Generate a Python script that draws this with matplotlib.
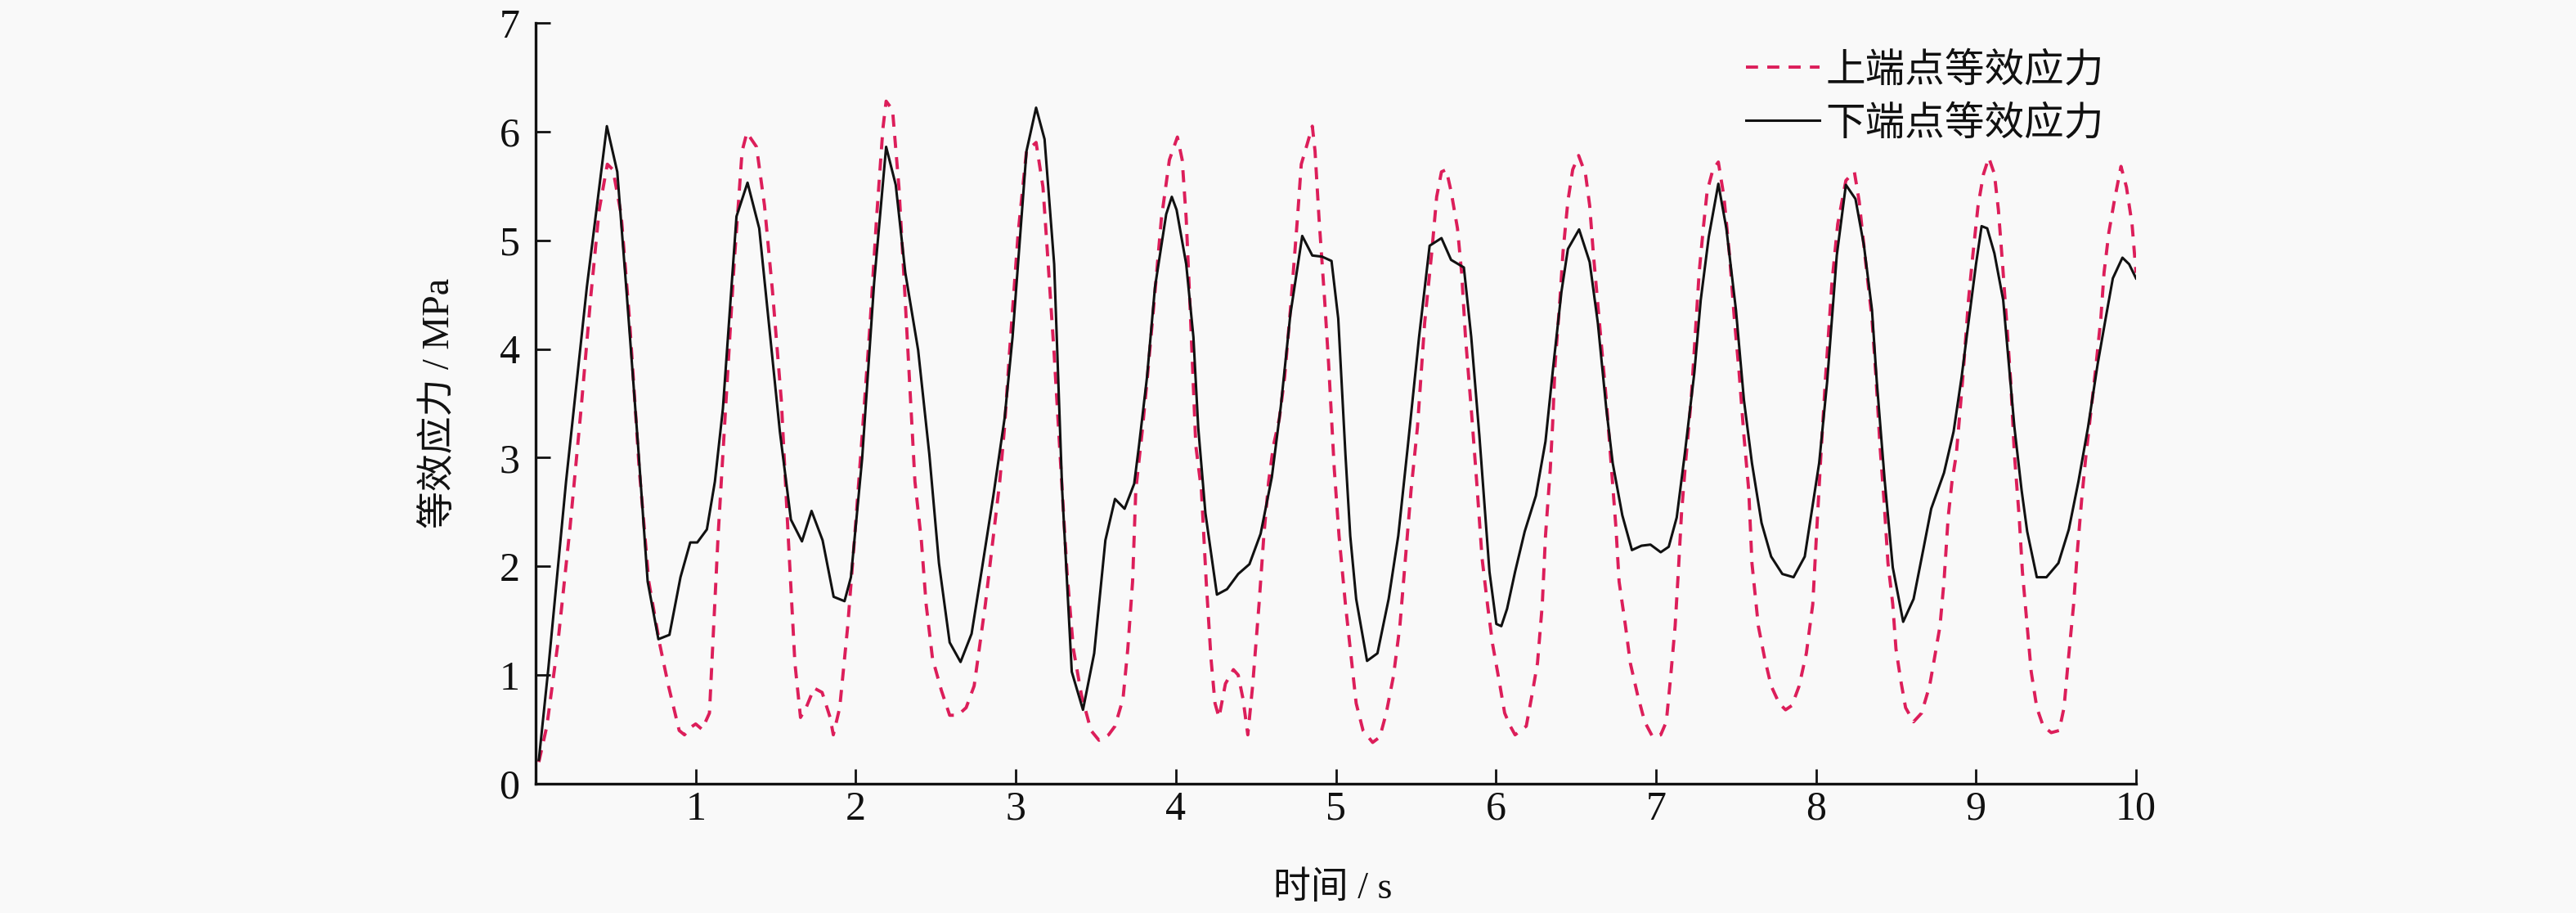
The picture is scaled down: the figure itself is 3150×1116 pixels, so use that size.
import matplotlib
matplotlib.use("Agg")
import matplotlib.pyplot as plt

# ---------------- data ----------------
t_upper = [0.02, 0.07, 0.138, 0.215, 0.284, 0.345, 0.397, 0.448, 0.483, 0.534, 0.586, 0.647, 0.707, 0.776,
           0.83, 0.897, 0.93, 0.97, 1.0, 1.04, 1.086, 1.14, 1.19, 1.24, 1.29, 1.32, 1.38, 1.43, 1.48, 1.535,
           1.578, 1.62, 1.655, 1.69, 1.74, 1.79, 1.84, 1.86, 1.9, 1.95, 2.0, 2.04, 2.09, 2.13, 2.17, 2.19,
           2.23, 2.27, 2.30, 2.34, 2.37, 2.41, 2.44, 2.48, 2.535, 2.587, 2.638, 2.69, 2.74, 2.81, 2.86, 2.90,
           2.93, 2.96, 3.015, 3.067, 3.127, 3.17, 3.195, 3.24, 3.29, 3.32, 3.36, 3.41, 3.47, 3.52, 3.58, 3.62,
           3.67, 3.70, 3.73, 3.75, 3.79, 3.82, 3.86, 3.91, 3.96, 4.01, 4.04, 4.065, 4.09, 4.125, 4.16, 4.19,
           4.22, 4.245, 4.27, 4.31, 4.36, 4.39, 4.42, 4.45, 4.48, 4.52, 4.55, 4.58, 4.61, 4.647, 4.68, 4.716,
           4.76, 4.784, 4.82, 4.853, 4.87, 4.895, 4.93, 4.955, 4.99, 5.02, 5.06, 5.09, 5.127, 5.17, 5.23,
           5.275, 5.315, 5.36, 5.40, 5.435, 5.47, 5.51, 5.555, 5.6, 5.63, 5.66, 5.69, 5.72, 5.76, 5.786, 5.81,
           5.846, 5.88, 5.914, 5.95, 5.98, 6.02, 6.055, 6.09, 6.12, 6.19, 6.226, 6.26, 6.29, 6.31, 6.34, 6.355,
           6.37, 6.40, 6.42, 6.45, 6.48, 6.517, 6.56, 6.586, 6.61, 6.645, 6.69, 6.72, 6.75, 6.77, 6.81, 6.84,
           6.885, 6.93, 6.98, 7.03, 7.065, 7.09, 7.12, 7.14, 7.16, 7.185, 7.22, 7.245, 7.27, 7.296, 7.32,
           7.356, 7.39, 7.425, 7.46, 7.49, 7.52, 7.55, 7.58, 7.60, 7.64, 7.68, 7.72, 7.77, 7.81, 7.85, 7.895,
           7.94, 7.98, 8.0, 8.03, 8.06, 8.10, 8.136, 8.187, 8.24, 8.27, 8.306, 8.35, 8.375, 8.40, 8.425, 8.45,
           8.48, 8.50, 8.53, 8.56, 8.61, 8.66, 8.71, 8.74, 8.775, 8.80, 8.826, 8.85, 8.877, 8.894, 8.92, 8.953,
           8.98, 9.013, 9.047, 9.08, 9.115, 9.14, 9.166, 9.19, 9.217, 9.24, 9.27, 9.29, 9.32, 9.345, 9.38,
           9.42, 9.47, 9.52, 9.55, 9.575, 9.61, 9.634, 9.66, 9.685, 9.71, 9.745, 9.78, 9.80, 9.83, 9.864,
           9.906, 9.94, 9.975, 10.0]
s_upper = [0.20, 0.53, 1.28, 2.36, 3.45, 4.49, 5.28, 5.70, 5.65, 5.24, 4.28, 2.90, 1.86, 1.28,
           0.90, 0.49, 0.45, 0.52, 0.55, 0.50, 0.65, 2.28, 3.53, 4.78, 5.82, 5.99, 5.86, 5.32, 4.53, 3.53,
           2.28, 1.11, 0.61, 0.70, 0.88, 0.84, 0.61, 0.45, 0.70, 1.45, 2.40, 3.20, 4.24, 5.20, 6.03, 6.28,
           6.20, 5.49, 4.70, 3.61, 2.78, 2.24, 1.65, 1.15, 0.86, 0.63, 0.63, 0.70, 0.90, 1.65, 2.28, 2.78,
           3.28, 3.95, 5.07, 5.82, 5.90, 5.49, 4.95, 3.95, 2.70, 1.95, 1.24, 0.82, 0.49, 0.40, 0.45, 0.53,
           0.78, 1.24, 1.86, 2.70, 3.24, 3.70, 4.36, 5.20, 5.74, 5.95, 5.74, 5.20, 4.36, 3.11, 2.70, 1.86,
           1.15, 0.74, 0.61, 0.92, 1.05, 1.00, 0.78, 0.45, 0.90, 1.65, 2.28, 2.78, 3.11, 3.36, 3.74, 4.36,
           5.20, 5.70, 5.88, 6.05, 5.82, 5.20, 4.45, 3.86, 2.90, 2.28, 1.65, 1.24, 0.74, 0.49, 0.38,
           0.43, 0.65, 0.99, 1.45, 2.07, 2.70, 3.28, 4.24, 4.90, 5.40, 5.63, 5.65, 5.45, 5.11, 4.70, 4.11,
           3.45, 2.78, 2.07, 1.62, 1.28, 0.95, 0.65, 0.53, 0.45, 0.53, 0.82, 1.11, 1.65, 2.28, 2.90, 3.32,
           3.86, 4.45, 4.90, 5.36, 5.65, 5.78, 5.61, 5.32, 4.86, 4.28, 3.53, 2.95, 2.36, 1.86, 1.45, 1.11,
           0.82, 0.57, 0.43, 0.45, 0.57, 0.95, 1.45, 1.95, 2.49, 2.95, 3.53, 4.11, 4.70, 5.11, 5.45,
           5.65, 5.72, 5.40, 4.86, 4.28, 3.78, 3.20, 2.70, 2.03, 1.45, 1.15, 0.90, 0.74, 0.68, 0.72, 0.90,
           1.20, 1.65, 2.20, 3.00, 3.74, 4.61, 5.15, 5.55, 5.63, 5.36, 4.86, 4.28, 3.74, 3.11, 2.61, 2.03,
           1.65, 1.24, 0.95, 0.70, 0.57, 0.65, 0.90, 1.15, 1.45, 1.86, 2.45, 2.78, 3.03, 3.32, 3.78, 4.45,
           4.86, 5.32, 5.61, 5.76, 5.61, 5.28, 4.78, 4.28, 3.70, 3.03, 2.45, 1.95, 1.45, 1.03, 0.70,
           0.53, 0.47, 0.49, 0.70, 1.11, 1.65, 2.15, 2.61, 2.99, 3.32, 3.78, 4.28, 4.70, 5.07, 5.36,
           5.68, 5.49, 5.15, 4.70]

t_lower = [0.02, 0.08, 0.19, 0.32, 0.38, 0.445, 0.51, 0.57, 0.64, 0.70, 0.767, 0.836, 0.905, 0.966, 1.01,
           1.07, 1.12, 1.17, 1.255, 1.324, 1.397, 1.466, 1.526, 1.595, 1.664, 1.724, 1.793, 1.862, 1.93, 1.97,
           2.04, 2.115, 2.19, 2.25, 2.31, 2.39, 2.46, 2.52, 2.587, 2.655, 2.724, 2.79, 2.86, 2.93, 2.98, 3.067,
           3.127, 3.18, 3.24, 3.29, 3.35, 3.42, 3.49, 3.56, 3.62, 3.68, 3.74, 3.77, 3.82, 3.87, 3.94, 3.975,
           4.005, 4.065, 4.11, 4.14, 4.185, 4.257, 4.32, 4.39, 4.46, 4.53, 4.60, 4.656, 4.716, 4.79, 4.853,
           4.913, 4.973, 5.015, 5.06, 5.09, 5.127, 5.195, 5.26, 5.33, 5.39, 5.45, 5.52, 5.586, 5.66, 5.72,
           5.80, 5.846, 5.897, 5.96, 6.003, 6.034, 6.07, 6.12, 6.18, 6.25, 6.31, 6.36, 6.41, 6.45, 6.52, 6.586,
           6.637, 6.69, 6.73, 6.79, 6.85, 6.91, 6.966, 7.03, 7.08, 7.13, 7.18, 7.24, 7.28, 7.33, 7.39, 7.44,
           7.50, 7.55, 7.60, 7.66, 7.72, 7.79, 7.86, 7.93, 8.02, 8.07, 8.13, 8.187, 8.247, 8.30, 8.35, 8.38,
           8.43, 8.48, 8.545, 8.61, 8.67, 8.72, 8.80, 8.86, 8.91, 8.945, 9.0, 9.035, 9.07, 9.115, 9.17, 9.20,
           9.24, 9.285, 9.32, 9.38, 9.44, 9.515, 9.58, 9.64, 9.70, 9.76, 9.81, 9.855, 9.915, 9.957, 10.0]
s_lower = [0.22, 1.07, 2.78, 4.57, 5.28, 6.05, 5.63, 4.49, 3.11, 1.86, 1.33, 1.37, 1.90, 2.22, 2.22,
           2.34, 2.78, 3.45, 5.22, 5.53, 5.11, 4.11, 3.24, 2.43, 2.23, 2.51, 2.24, 1.72, 1.68, 1.90,
           2.99, 4.61, 5.86, 5.51, 4.70, 3.99, 3.03, 2.03, 1.30, 1.12, 1.38, 1.99, 2.65, 3.36, 4.11, 5.82,
           6.22, 5.93, 4.78, 2.70, 1.03, 0.68, 1.20, 2.24, 2.62, 2.53, 2.76, 3.11, 3.74, 4.57, 5.24, 5.40,
           5.28, 4.78, 4.11, 3.28, 2.49, 1.74, 1.79, 1.93, 2.02, 2.30, 2.82, 3.47, 4.32, 5.04, 4.86,
           4.85, 4.81, 4.28, 3.03, 2.28, 1.70, 1.13, 1.20, 1.70, 2.28, 3.11, 4.11, 4.95, 5.02, 4.82,
           4.75, 4.11, 3.20, 1.95, 1.47, 1.45, 1.61, 1.95, 2.32, 2.65, 3.15, 3.86, 4.53, 4.92, 5.10, 4.80,
           4.24, 3.45, 2.95, 2.47, 2.15, 2.19, 2.20, 2.13, 2.18, 2.45, 3.03, 3.78, 4.45, 5.03, 5.52, 5.11,
           4.36, 3.53, 2.95, 2.40, 2.09, 1.93, 1.90, 2.09, 2.95, 3.70, 4.86, 5.51, 5.38, 4.95, 4.36, 3.70,
           2.78, 1.99, 1.49, 1.70, 2.15, 2.53, 2.86, 3.24, 3.74, 4.15, 4.78, 5.13, 5.11, 4.88, 4.45, 3.95,
           3.28, 2.70, 2.32, 1.90, 1.90, 2.03, 2.34, 2.78, 3.28, 3.86, 4.28, 4.65, 4.84, 4.78, 4.65]

x_ticks = [1, 2, 3, 4, 5, 6, 7, 8, 9, 10]
y_ticks = [0, 1, 2, 3, 4, 5, 6, 7]
label_upper = "上端点等效应力"
label_lower = "下端点等效应力"
x_label = "时间 / s"
y_label = "等效应力 / MPa"

# ---------------- style ----------------
plt.rcParams['font.family'] = ['Liberation Serif', 'Noto Sans CJK SC', 'DejaVu Sans']
plt.rcParams['axes.unicode_minus'] = False

W, H = 3150, 1116
fig = plt.figure(figsize=(W / 100, H / 100), dpi=100, facecolor='#f9f9f9')
L, R, T, B = 655, 2612, 28, 958
ax = fig.add_axes([L / W, 1 - B / H, (R - L) / W, (B - T) / H])
ax.set_facecolor('#f9f9f9')

red = '#DC1E5A'
ax.plot(t_upper, s_upper, color=red, lw=2.8, ls=(0, (3.8, 2.9)), label=label_upper, zorder=2)
ax.plot(t_lower, s_lower, color='#111111', lw=2.2, ls='-', label=label_lower, zorder=3)

ax.set_xlim(0, 10)
ax.set_ylim(0, 7)
ax.set_xticks(x_ticks)
ax.set_yticks(y_ticks)
ax.tick_params(direction='in', length=13, width=2, labelsize=36, colors='#111111')
ax.tick_params(axis='x', pad=6)
ax.tick_params(axis='y', pad=14)

for s in ['top', 'right']:
    ax.spines[s].set_visible(False)
for s in ['left', 'bottom']:
    ax.spines[s].set_linewidth(2.4)
    ax.spines[s].set_color('#111111')

ax.set_xlabel(x_label, fontsize=33, color='#111111')
ax.xaxis.set_label_coords(0.498, -0.138)
ax.xaxis.label.set_va('center')
ax.set_ylabel(y_label, fontsize=33, color='#111111')
ax.yaxis.set_label_coords(-0.060, 0.5)
ax.yaxis.label.set_va('center')

leg = ax.legend(loc='upper left', bbox_to_anchor=(0.7565, 0.962), frameon=False, fontsize=35,
                handlelength=1.85, handletextpad=0.15, labelspacing=0.40, borderpad=0, borderaxespad=0)
for txt in leg.get_texts():
    txt.set_color('#111111')

fig.savefig('out.png', dpi=100, facecolor=fig.get_facecolor())
